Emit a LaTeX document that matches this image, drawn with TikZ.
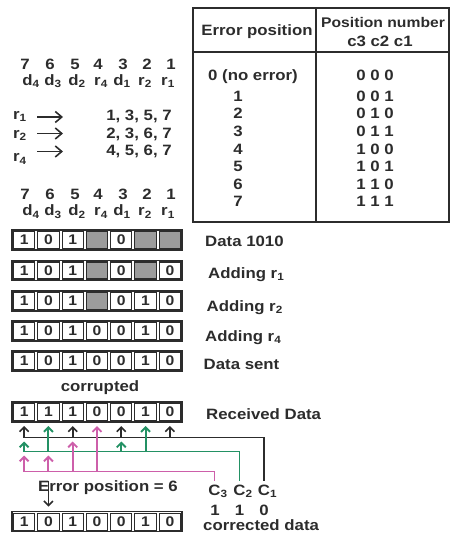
\documentclass[tikz,border=0pt]{standalone}
\usepackage{fontspec}
\setmainfont{Liberation Sans}[FakeStretch=1.12]
\usetikzlibrary{arrows.meta}

\definecolor{ink}{HTML}{2C2C2C}
\definecolor{shade}{HTML}{9C9C9C}
\definecolor{cgreen}{RGB}{35,145,100}
\definecolor{cpink}{RGB}{205,95,170}

\newcommand\lo[1]{\textsubscript{#1}}

\tikzset{
  txt/.style={font=\bfseries\fontsize{15}{17}\selectfont, text=ink, inner sep=0pt},
  frame/.style={draw=ink, line width=1.2pt},
  bit/.style={draw=ink, line width=1.1pt, minimum width=21.3pt, minimum height=17pt,
    inner sep=0pt, font=\bfseries\fontsize{14}{16}\selectfont, text=ink},
  kline/.style={draw=ink, line width=1.6pt},
  gline/.style={draw=cgreen, line width=1.9pt},
  pline/.style={draw=cpink, line width=1.9pt},
  up/.style={-{Straight Barb[length=4.5pt,width=9pt]}},
  rarrow/.style={draw=ink, line width=1.6pt, -{Straight Barb[length=6.5pt,width=11pt]}},
}

% one 7-bit register: name, centre y, list of value/fill pairs
\newcommand\bitrow[3]{%
  \draw[frame] (12,#2-10) rectangle (182,#2+10);
  \foreach \v/\f [count=\i] in {#3}
    \node[bit, fill=\f] (#1-\i) at ({12+24.2857*(\i-0.5)},#2) {\v};
}

\begin{document}
\begin{tikzpicture}[x=1pt,y=-1pt]
\useasboundingbox (0,0) rectangle (450,534);

% ---- table of syndromes ----
\node[txt, anchor=base] (hErr) at (257,35.4) {Error position};
\node[txt, font=\bfseries\fontsize{14}{16}\selectfont, anchor=base west] (hPos) at (321,27.4) {Position number};
\node[txt, anchor=base] (hC) at (380,47) {c3 c2 c1};
\node[txt, anchor=base] (e0) at (253,80.4) {0 (no error)};
\node[txt, anchor=base] (p0) at (375,80.4) {0 0 0};
\foreach \code [count=\k] in {0 0 1,0 1 0,0 1 1,1 0 0,1 0 1,1 1 0,1 1 1}{
  \node[txt, anchor=base] (e\k) at (238,{101.4+17.6*(\k-1)}) {\k};
  \node[txt, anchor=base] (p\k) at (375,{101.4+17.6*(\k-1)}) {\code};
}
\draw[frame] (193,8) rectangle (449,222);
\draw[frame] (193,52) -- (449,52);
\draw[frame] (316,8) -- (316,222);

% ---- bit positions ----
\foreach \n/\x [count=\i] in {7/25,6/50,5/75,4/98,3/123,2/147,1/171}{
  \node[txt, anchor=base] (pa\i) at (\x,70) {\n};
  \node[txt, anchor=base] (pb\i) at (\x,200) {\n};
}
\foreach \n/\x [count=\i] in {d\lo4/31,d\lo3/53,d\lo2/77,r\lo4/101,d\lo1/122,r\lo2/145,r\lo1/168}{
  \node[txt, anchor=base] (na\i) at (\x,85.5) {\n};
  \node[txt, anchor=base] (nb\i) at (\x,216) {\n};
}

% ---- parity coverage ----
\node[txt, anchor=base] (r1) at (20,119.5) {r\lo1};
\node[txt, anchor=base] (r2) at (20,138.5) {r\lo2};
\node[txt, anchor=base] (r4) at (20,162) {r\lo4};
\node[txt, anchor=base] (s1) at (139,120.5) {1, 3, 5, 7};
\node[txt, anchor=base] (s2) at (139,138.5) {2, 3, 6, 7};
\node[txt, anchor=base] (s4) at (139,156) {4, 5, 6, 7};
\coordinate (a1s) at (37,117);   \coordinate (a1e) at (63,117);
\coordinate (a2s) at (37,133.5); \coordinate (a2e) at (63,133.5);
\coordinate (a4s) at (37,151.5); \coordinate (a4e) at (63,151.5);
\draw[rarrow] (a1s) -- (a1e);
\draw[rarrow] (a2s) -- (a2e);
\draw[rarrow] (a4s) -- (a4e);

% ---- encoding steps ----
\bitrow{ra}{240}{1/white,0/white,1/white,/shade,0/white,/shade,/shade}
\bitrow{rb}{270.5}{1/white,0/white,1/white,/shade,0/white,/shade,0/white}
\bitrow{rc}{301}{1/white,0/white,1/white,/shade,0/white,1/white,0/white}
\bitrow{rd}{331}{1/white,0/white,1/white,0/white,0/white,1/white,0/white}
\bitrow{re}{361}{1/white,0/white,1/white,0/white,0/white,1/white,0/white}
\node[txt, anchor=base west] (la) at (205,246) {Data 1010};
\node[txt, anchor=base west] (lb) at (208,278) {Adding r\lo1};
\node[txt, anchor=base west] (lc) at (206.5,311.5) {Adding r\lo2};
\node[txt, anchor=base west] (ld) at (205,341.5) {Adding r\lo4};
\node[txt, anchor=base west] (le) at (203.5,369) {Data sent};

% ---- received word and checks ----
\node[txt, anchor=base] (cor) at (100,391) {corrupted};
\bitrow{rx}{412}{1/white,1/white,1/white,0/white,0/white,1/white,0/white}
\node[txt, anchor=base west] (lx) at (206,419.3) {Received Data};

\node[txt, anchor=base] (c3) at (214.5,495) {C\rlap{\lo3}};
\node[txt, anchor=base] (c2) at (239.5,495) {C\rlap{\lo2}};
\node[txt, anchor=base] (c1) at (264,495) {C\rlap{\lo1}};
\node[txt, anchor=base] (v3) at (215,515) {1};
\node[txt, anchor=base] (v2) at (239.5,515) {1};
\node[txt, anchor=base] (v1) at (264,515) {0};

\coordinate (kL) at (24.1,437.5);
\coordinate (gL) at (24.1,451.5);
\coordinate (pL) at (24.1,471.5);

\draw[kline] (kL) -| ([yshift=3pt]c1.north);
\draw[gline] (gL) -| ([yshift=3pt]c2.north);
\draw[pline] (pL) -| ([yshift=3pt]c3.north);

% C1 checks positions 1,3,5,7
\foreach \i in {1,3,5,7}
  \draw[kline, up] (rx-\i.south |- kL) -- ([yshift=-5pt]rx-\i.south);
% C2 checks positions 2,3,6,7
\foreach \i in {2,6}
  \draw[gline, up] (rx-\i.south |- gL) -- ([yshift=-5pt]rx-\i.south);
\foreach \i in {1,5}
  \draw[gline, up] (rx-\i.south |- gL) -- ([yshift=-4pt]rx-\i.south |- kL);
% C3 checks positions 4,5,6,7
\draw[pline, up] (rx-4.south |- pL) -- ([yshift=-5pt]rx-4.south);
\draw[pline, up] (rx-3.south |- pL) -- ([yshift=-4pt]rx-3.south |- kL);
\foreach \i in {1,2}
  \draw[pline, up] (rx-\i.south |- pL) -- ([yshift=-4pt]rx-\i.south |- gL);

% ---- correction ----
\node[txt, anchor=base west] (err) at (38,491.7) {Error position = 6};
\bitrow{fx}{521.7}{1/white,0/white,1/white,0/white,0/white,1/white,0/white}
\draw[kline, up] (fx-2.north |- err.north) -- ([yshift=6pt]fx-2.north);
\node[txt, anchor=base west] (lf) at (203,530) {corrected data};
\end{tikzpicture}
\end{document}
